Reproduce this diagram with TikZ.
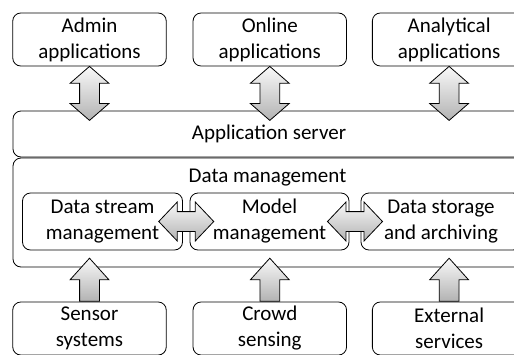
\documentclass[tikz,border=0pt]{standalone}
\usepackage{fontspec}
\setmainfont{Carlito}
\usetikzlibrary{positioning, shapes.arrows, calc}

\begin{document}
\begin{tikzpicture}[
  x=1pt, y=-1pt,
  font=\fontsize{21}{26}\selectfont,
  box/.style={draw, rounded corners=8pt, align=center, inner sep=0pt,
              minimum width=153.5pt, minimum height=53pt, line width=0.8pt},
  widebox/.style={box, minimum width=512pt, minimum height=46pt},
  subbox/.style={box, minimum width=160pt, minimum height=57pt},
  shade/.style={draw, line width=0.8pt, inner sep=9.5pt,
                top color=gray!5, bottom color=gray!60},
  vlink/.style={shade, double arrow, shape border rotate=90,
                minimum width=38pt, minimum height=54pt,
                double arrow head extend=9.5pt, double arrow tip angle=98},
  hlink/.style={shade, double arrow, minimum width=38pt, minimum height=55pt,
                double arrow head extend=9.5pt, double arrow tip angle=93},
  uplink/.style={shade, single arrow, shape border rotate=90,
                 minimum width=38pt, minimum height=43pt,
                 single arrow head extend=9.5pt, single arrow tip angle=84},
  node distance=26pt
]
  \useasboundingbox (0,0) rectangle (514,354);
  \clip (0,0) rectangle (514,354);

  % applications
  \node[box] (admin) at (89.5,39.5) {Admin\\applications};
  \node[box, right=of admin] (online) {Online\\applications};
  \node[box, right=25pt of online] (analytic) {Analytical\\applications};

  % server and data management
  \node[widebox] (server) at (269,134) {Application server};
  \node[box, minimum width=509pt, minimum height=109pt] (dm) at (267.5,212.5) {};
  \node[below=8pt of dm.north] (dmlabel) {Data management};
  \node[subbox] (stream) at (102.5,221.5) {Data stream\\management};
  \node[subbox, minimum width=159pt] (model) at (269.5,221.5) {Model\\management};
  \node[subbox] (storage) at (441,221.5) {Data storage\\and archiving};

  % sources
  \node[box] (sensor) at (89.5,328.5) {Sensor\\systems};
  \node[box, right=of sensor] (crowd) {Crowd\\sensing};
  \node[box, right=25pt of crowd] (external) {External\\services};

  % block arrows
  \node[vlink] (v1) at ($(admin.south)+(0,27)$) {};
  \node[vlink] (v2) at ($(online.south)+(0,27)$) {};
  \node[vlink] (v3) at ($(analytic.south)+(0,27)$) {};
  \node[hlink] (h1) at ($(stream.east)!0.5!(model.west)$) {};
  \node[hlink] (h2) at ($(model.east)!0.5!(storage.west)$) {};
  \node[uplink, anchor=tail] (u1) at (sensor.north) {};
  \node[uplink, anchor=tail] (u2) at (crowd.north) {};
  \node[uplink, anchor=tail] (u3) at (external.north) {};
\end{tikzpicture}
\end{document}
